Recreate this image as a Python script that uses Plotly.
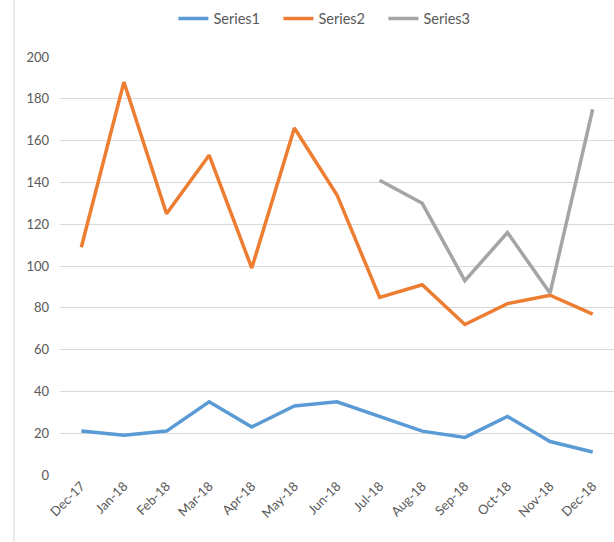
import plotly.graph_objects as go

categories = ["Dec-17", "Jan-18", "Feb-18", "Mar-18", "Apr-18", "May-18", "Jun-18",
              "Jul-18", "Aug-18", "Sep-18", "Oct-18", "Nov-18", "Dec-18"]
series1 = [21, 19, 21, 35, 23, 33, 35, 28, 21, 18, 28, 16, 11]
series2 = [109, 188, 125, 153, 99, 166, 134, 85, 91, 72, 82, 86, 77]
series3 = [None, None, None, None, None, None, None, 141, 130, 93, 116, 87, 175]
y_ticks = [0, 20, 40, 60, 80, 100, 120, 140, 160, 180, 200]

FONT = "Lato, Carlito, Calibri, sans-serif"
TXT = "#595959"

fig = go.Figure()
for name, vals, col in [("Series1", series1, "#5B9BD5"),
                        ("Series2", series2, "#ED7D31"),
                        ("Series3", series3, "#A5A5A5")]:
    fig.add_trace(go.Scatter(x=categories, y=vals, name=name, mode="lines",
                             line=dict(color=col, width=3.5, shape="linear"),
                             connectgaps=False))

fig.update_layout(
    width=614, height=542,
    margin=dict(l=60, r=0, t=57, b=67),
    paper_bgcolor="white", plot_bgcolor="white",
    font=dict(family=FONT, size=13, color=TXT),
    showlegend=True,
    legend=dict(orientation="h", x=0.489, xanchor="center", y=1.13, yanchor="top",
                font=dict(family=FONT, size=14.5, color=TXT),
                itemwidth=30, entrywidth=60, tracegroupgap=0, bgcolor="rgba(0,0,0,0)"),
    xaxis=dict(type="category", categoryorder="array", categoryarray=categories,
               range=[-0.5, len(categories) - 0.5], showgrid=False, zeroline=False,
               showline=False, ticks="", tickangle=-45,
               tickfont=dict(family=FONT, size=13, color=TXT)),
    yaxis=dict(range=[0, 200], tickvals=y_ticks, showgrid=True, gridcolor="#D9D9D9",
               gridwidth=1, zeroline=False, showline=False, ticks="",
               ticklabelstandoff=10, tickfont=dict(family=FONT, size=13, color=TXT)),
)

fig.add_shape(type="line", xref="paper", yref="paper",
              x0=(14 - 60) / 554, x1=(14 - 60) / 554, y0=-67 / 418, y1=(418 + 57) / 418,
              line=dict(color="#D9D9D9", width=1), layer="below")

fig.write_html("out.html", config={"displayModeBar": False},
               post_script="document.body.style.margin='0px';document.body.style.overflow='hidden';")
